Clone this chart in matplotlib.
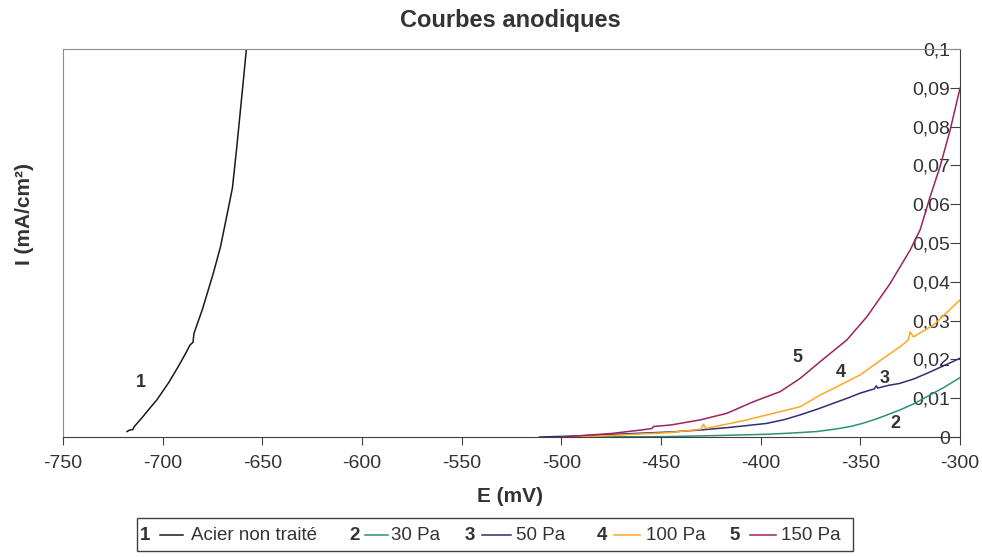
import numpy as np
import matplotlib
matplotlib.use('Agg')
import matplotlib.pyplot as plt
from matplotlib.lines import Line2D
from matplotlib.patches import Rectangle

plt.rcParams['font.family'] = ['Liberation Sans', 'DejaVu Sans']

# curve 1 : acier non traite
e1 = [-717.9, -716.5, -715.0, -714.2, -710, -706, -703.0, -697, -692, -688, -686.3, -684.8,
      -684.3, -680, -674.6, -671, -667.9, -665, -662.8, -661, -659.5, -658.0, -657.0]
i1 = [0.0014, 0.0018, 0.0019, 0.0027, 0.0052, 0.0077, 0.0095, 0.0140, 0.0183, 0.0220, 0.0237, 0.0244,
      0.0267, 0.0330, 0.0422, 0.0490, 0.0568, 0.0642, 0.0748, 0.0842, 0.0920, 0.1000, 0.105]

# curve 2 : 30 Pa
e2 = [-490, -470, -447, -420, -397, -385, -372, -363, -355, -349, -343.4, -337, -330, -323, -316.6, -308, -300]
i2 = [0, 0.00005, 0.0001, 0.0004, 0.0007, 0.001, 0.0014, 0.002, 0.0027, 0.0035, 0.0044, 0.0056, 0.007,
      0.0086, 0.0104, 0.0128, 0.0153]

# curve 3 : 50 Pa
e3 = [-511, -490, -463.8, -445, -430.4, -415, -397, -388, -380.2, -372, -363.5, -356, -350.1, -343, -342,
      -341.3, -336, -330.3, -323, -316.6, -308, -300]
i3 = [0, 0.0003, 0.0009, 0.0013, 0.0018, 0.0025, 0.0035, 0.0045, 0.0057, 0.0071, 0.0087, 0.0101, 0.0113,
      0.0124, 0.0132, 0.0126, 0.0133, 0.0138, 0.0150, 0.0164, 0.0184, 0.0203]

# curve 4 : 100 Pa
e4 = [-494, -475, -460, -447, -435, -430, -428.7, -427.5, -420, -407, -393.6, -380.2, -370.2,
      -360.1, -350.1, -338.4, -330, -326, -325, -323.4, -313.3, -300]
i4 = [0, 0.0004, 0.0008, 0.0011, 0.0017, 0.0020, 0.0033, 0.0022, 0.0030, 0.0044, 0.0061, 0.0078,
      0.0108, 0.0134, 0.0160, 0.0203, 0.0233, 0.0250, 0.0271, 0.0258, 0.0289, 0.0353]

# curve 5 : 150 Pa
e5 = [-500, -475, -460, -454.5, -453.8, -445, -430.4, -417, -403.6, -390.2, -380.2, -370.2, -356.8,
      -346.7, -335, -325, -320, -315, -310, -305, -300]
i5 = [0, 0.0009, 0.0018, 0.0022, 0.0027, 0.0031, 0.0044, 0.0061, 0.0091, 0.0117, 0.0151, 0.0194, 0.0250,
      0.0310, 0.0396, 0.0482, 0.0534, 0.0619, 0.0697, 0.0790, 0.0899]

numbers = ['1', '2', '3', '4', '5']
names = ['Acier non traité', '30 Pa', '50 Pa', '100 Pa', '150 Pa']
colors = ['#1a1a1a', '#2f8f7a', '#2e2e78', '#ffa726', '#9b2360']

# curve labels (E, I)
lab_e = [-711, -332.5, -337.6, -359.6, -381.7]
lab_i = [0.014, 0.0036, 0.015, 0.0165, 0.0204]

x_ticks = [-750, -700, -650, -600, -550, -500, -450, -400, -350, -300]
y_ticks = [0, 0.01, 0.02, 0.03, 0.04, 0.05, 0.06, 0.07, 0.08, 0.09, 0.1]
y_tick_labels = ['0', '0,01', '0,02', '0,03', '0,04', '0,05', '0,06', '0,07', '0,08', '0,09', '0,1']

W, H = 982, 557
fig = plt.figure(figsize=(W / 100, H / 100), dpi=100)
ax = fig.add_axes([63 / W, 1 - 437 / H, (960 - 63) / W, (437 - 49) / H])

curves = [(e1, i1), (e2, i2), (e3, i3), (e4, i4), (e5, i5)]
for (e, i), c in zip(curves, colors):
    ax.plot(e, i, color=c, lw=1.1)

for n, x, y in zip(numbers, lab_e, lab_i):
    ax.text(x, y, n, fontsize=13, fontweight='bold', color='#333333', ha='center', va='center')

ax.set_xlim(-750, -300)
ax.set_ylim(0, 0.1)
ax.set_xticks(x_ticks)
ax.set_xticklabels([str(v) for v in x_ticks])
ax.set_yticks(y_ticks)
ax.set_yticklabels(y_tick_labels)

for s in ['top', 'left']:
    ax.spines[s].set_color('#8c8c8c')
for s in ['bottom', 'right']:
    ax.spines[s].set_color('#404040')

ax.tick_params(axis='x', direction='out', length=6, color='#404040', labelsize=14,
               labelcolor='#333333', pad=7)
ax.tick_params(axis='y', left=False, labelleft=False, right=True, labelright=True,
               direction='in', length=7, color='#404040', labelsize=14, labelcolor='#333333', pad=-7)
for lbl in ax.get_yticklabels():
    lbl.set_horizontalalignment('right')

fig.text(510 / W, 1 - 20 / H, 'Courbes anodiques', fontsize=17, fontweight='bold',
         color='#333333', ha='center', va='center')
fig.text(510 / W, 1 - 497 / H, 'E (mV)', fontsize=15, fontweight='bold',
         color='#333333', ha='center', va='center')
fig.text(25 / W, 1 - 214 / H, 'I (mA/cm²)', fontsize=15, fontweight='bold',
         color='#333333', ha='center', va='center', rotation=90)

# legend box drawn by hand (number before the line, like Excel)
fig.patches.append(Rectangle((137 / W, 1 - 551 / H), (853 - 137) / W, (551 - 518) / H,
                             transform=fig.transFigure, fill=False, ec='#404040', lw=1))
num_x = [145, 355, 470, 602, 735]
line_x = [(160, 183), (365, 388), (482, 511), (614, 640), (750, 776)]
text_x = [191, 391, 516, 646, 781]
ly = 1 - 535 / H
for n, nm, c, nx, (l0, l1), tx in zip(numbers, names, colors, num_x, line_x, text_x):
    fig.text(nx / W, ly, n, fontsize=13.5, fontweight='bold', color='#333333', ha='center', va='center')
    fig.lines.append(Line2D([l0 / W, l1 / W], [ly, ly], transform=fig.transFigure, color=c, lw=1.1))
    fig.text(tx / W, ly, nm, fontsize=13.5, color='#333333', ha='left', va='center')

fig.savefig('out.png', dpi=100)
